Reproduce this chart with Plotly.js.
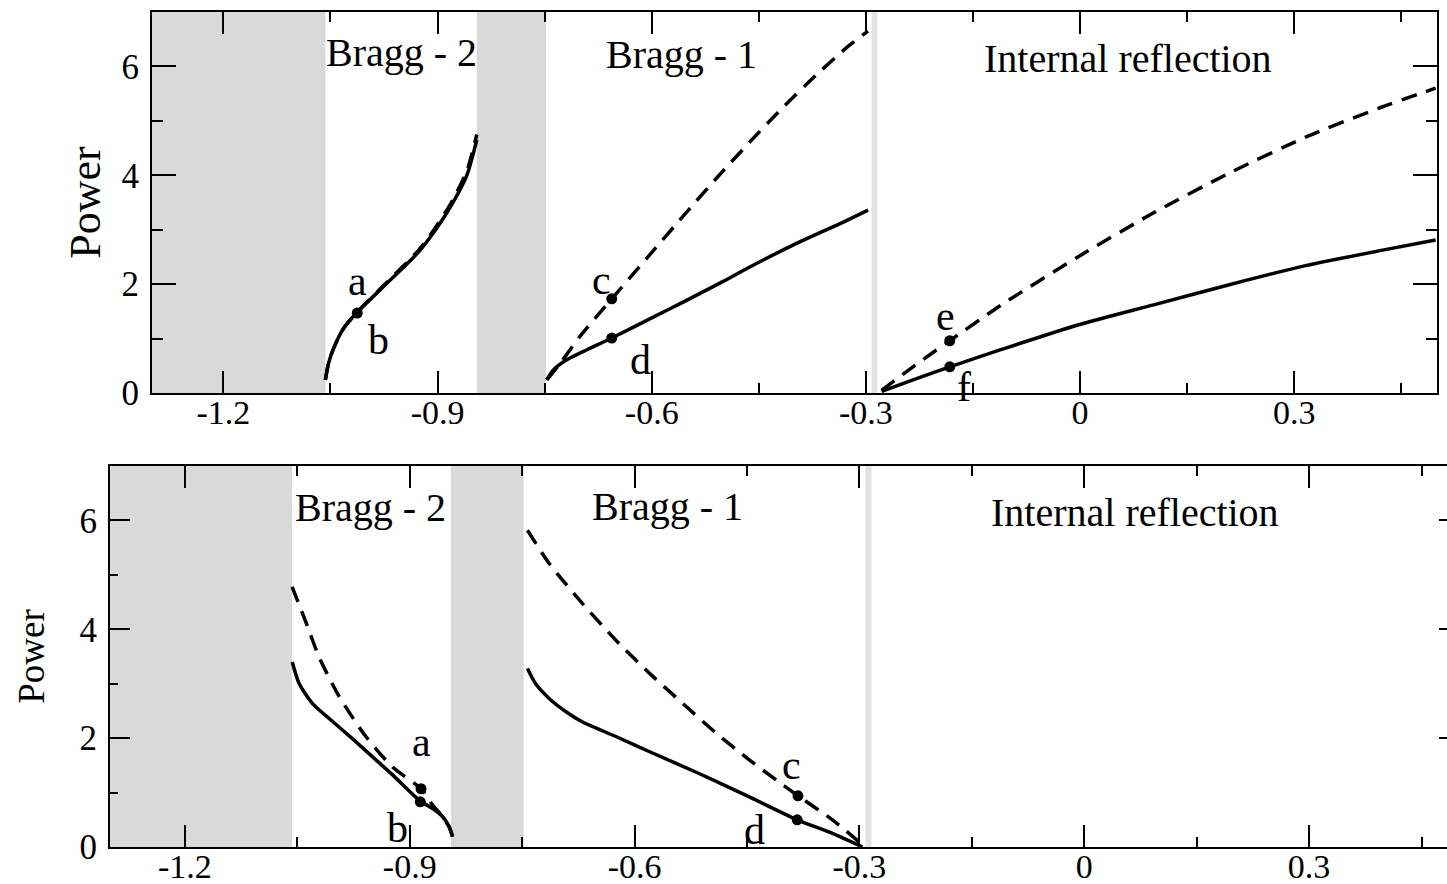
<!DOCTYPE html>
<html><head><meta charset="utf-8">
<script src="https://cdn.plot.ly/plotly-3.0.1.min.js"></script>
<style>html,body{margin:0;padding:0;overflow:hidden;background:#fff}#chart{width:1465px;height:884px}</style>
</head><body><div id="chart"></div>
<script>
// ---------- data ----------
const xRange = [-1.3, 0.5];
const yRange = [0, 7];
const xTickVals = [-1.2, -0.9, -0.6, -0.3, 0, 0.3];
const xTickText = ['-1.2', '-0.9', '-0.6', '-0.3', '0', '0.3'];
const xMinorVals = [-1.05, -0.75, -0.45, -0.15, 0.15, 0.45];
const yTickVals = [0, 2, 4, 6];
const yTickText = ['0', '2', '4', '6'];
const yMinorVals = [1, 3, 5];

// shaded (forbidden) bands [start, end]
const bandStart = [-1.3, -0.845, -0.292];
const bandEnd   = [-1.057, -0.748, -0.284];

const regionNames = ['Bragg - 2', 'Bragg - 1', 'Internal reflection'];
const regionTopX = [-0.951, -0.558, 0.067];
const regionTopY = [6.25, 6.21, 6.15];
const regionBotX = [-0.952, -0.556, 0.068];
const regionBotY = [6.23, 6.25, 6.15];

// ---- top panel ----
const topB2X      = [-1.0572, -1.0526, -1.0456, -1.0316, -1.0129, -0.976, -0.928, -0.906, -0.882, -0.859, -0.845];
const topB2Solid  = [0.24, 0.55, 0.82, 1.19, 1.48, 1.95, 2.57, 2.94, 3.42, 4.00, 4.65];
const topB2Dash   = [0.24, 0.55, 0.82, 1.19, 1.48, 1.97, 2.60, 2.98, 3.47, 4.08, 4.75];

const topB1DashX  = [-0.747, -0.728, -0.700, -0.656, -0.602, -0.556, -0.509, -0.462, -0.416, -0.369, -0.322, -0.297];
const topB1Dash   = [0.24, 0.55, 1.05, 1.73, 2.55, 3.25, 3.95, 4.62, 5.25, 5.85, 6.40, 6.65];
const topB1SolidX = [-0.747, -0.738, -0.719, -0.690, -0.656, -0.600, -0.556, -0.500, -0.462, -0.400, -0.330, -0.297];
const topB1Solid  = [0.24, 0.42, 0.61, 0.80, 1.01, 1.38, 1.67, 2.05, 2.32, 2.73, 3.15, 3.36];

const topIRX      = [-0.278, -0.230, -0.1825, -0.110, -0.003, 0.103, 0.209, 0.316, 0.422, 0.498];
const topIRDash   = [0.05, 0.52, 0.96, 1.62, 2.50, 3.31, 4.04, 4.70, 5.25, 5.60];
const topIRSolid  = [0.03, 0.26, 0.48, 0.80, 1.25, 1.62, 1.99, 2.34, 2.62, 2.81];

const topDotX     = [-1.0125, -0.656, -0.656, -0.1825, -0.1825];
const topDotY     = [1.47, 1.73, 1.01, 0.96, 0.48];
const topLetters  = ['a', 'b', 'c', 'd', 'e', 'f'];
const topLetterX  = [-1.0125, -0.983, -0.670, -0.616, -0.189, -0.163];
const topLetterY  = [2.06, 0.97, 2.08, 0.61, 1.42, 0.11];

// ---- bottom panel ----
const botB2DashX  = [-1.057, -1.038, -1.021, -0.994, -0.958, -0.923, -0.885, -0.870, -0.8564, -0.8475, -0.843];
const botB2Dash   = [4.78, 4.11, 3.49, 2.76, 2.02, 1.47, 1.07, 0.78, 0.56, 0.37, 0.19];
const botB2SolidX = [-1.0568, -1.0478, -1.030, -1.0033, -0.9766, -0.950, -0.9233, -0.8867, -0.870, -0.8564, -0.8475, -0.843];
const botB2Solid  = [3.40, 3.01, 2.64, 2.31, 1.99, 1.66, 1.33, 0.85, 0.71, 0.56, 0.37, 0.19];

const botB1DashX  = [-0.743, -0.714, -0.670, -0.625, -0.580, -0.536, -0.491, -0.447, -0.410, -0.382, -0.336, -0.296];
const botB1Dash   = [5.82, 5.21, 4.48, 3.80, 3.19, 2.64, 2.09, 1.60, 1.22, 0.94, 0.50, 0.04];
const botB1SolidX = [-0.743, -0.732, -0.714, -0.692, -0.670, -0.625, -0.580, -0.514, -0.447, -0.383, -0.336, -0.296];
const botB1Solid  = [3.28, 3.00, 2.73, 2.49, 2.30, 2.03, 1.75, 1.35, 0.92, 0.50, 0.25, 0.00];

const botDotX     = [-0.885, -0.886, -0.382, -0.383];
const botDotY     = [1.07, 0.83, 0.94, 0.50];
const botLetters  = ['a', 'b', 'c', 'd'];
const botLetterX  = [-0.885, -0.917, -0.390, -0.440];
const botLetterY  = [1.93, 0.35, 1.51, 0.31];

// ---------- drawing ----------
const FONT = 'Liberation Serif, Times New Roman, serif';
function curve(x, y, dashed, xa, ya) {
  return {x: x, y: y, type: 'scatter', mode: 'lines', xaxis: xa, yaxis: ya,
    line: {color: '#000', width: 3.5, dash: dashed ? '16px,10px' : 'solid', shape: 'spline', smoothing: 0.7},
    hoverinfo: 'skip', showlegend: false};
}
function dots(x, y, xa, ya) {
  return {x: x, y: y, type: 'scatter', mode: 'markers', xaxis: xa, yaxis: ya,
    marker: {color: '#000', size: 11}, hoverinfo: 'skip', showlegend: false};
}
const data = [
  curve(topB2X, topB2Solid, false, 'x', 'y'),
  curve(topB2X, topB2Dash, true, 'x', 'y'),
  curve(topB1DashX, topB1Dash, true, 'x', 'y'),
  curve(topB1SolidX, topB1Solid, false, 'x', 'y'),
  curve(topIRX, topIRDash, true, 'x', 'y'),
  curve(topIRX, topIRSolid, false, 'x', 'y'),
  dots(topDotX, topDotY, 'x', 'y'),
  curve(botB2DashX, botB2Dash, true, 'x2', 'y2'),
  curve(botB2SolidX, botB2Solid, false, 'x2', 'y2'),
  curve(botB1DashX, botB1Dash, true, 'x2', 'y2'),
  curve(botB1SolidX, botB1Solid, false, 'x2', 'y2'),
  dots(botDotX, botDotY, 'x2', 'y2')
];

function xAxis(domain, anchor) {
  return {domain: domain, anchor: anchor, range: xRange, tickmode: 'array', tickvals: xTickVals, ticktext: xTickText,
    ticks: 'inside', ticklen: 22, tickwidth: 2, tickcolor: '#000',
    showline: true, linewidth: 2, linecolor: '#000', mirror: 'allticks',
    showgrid: false, zeroline: false, ticklabelstandoff: -12,
    tickfont: {family: FONT, size: 34, color: '#000'},
    minor: {tickmode: 'array', tickvals: xMinorVals, ticks: 'inside', ticklen: 10, tickwidth: 2, tickcolor: '#000', showgrid: false}};
}
function yAxis(domain, anchor, titleSize, standoff, majLen, minLen) {
  return {domain: domain, anchor: anchor, range: yRange, tickmode: 'array', tickvals: yTickVals, ticktext: yTickText,
    ticks: 'inside', ticklen: majLen, tickwidth: 2, tickcolor: '#000',
    showline: true, linewidth: 2, linecolor: '#000', mirror: 'allticks',
    showgrid: false, zeroline: false, ticklabelstandoff: 4,
    tickfont: {family: FONT, size: 35, color: '#000'},
    title: {text: 'Power', font: {family: FONT, size: titleSize, color: '#000'}, standoff: standoff},
    minor: {tickmode: 'array', tickvals: yMinorVals, ticks: 'inside', ticklen: minLen, tickwidth: 2, tickcolor: '#000', showgrid: false}};
}

const shapes = [];
[['x', 'y'], ['x2', 'y2']].forEach(function (p) {
  for (let i = 0; i < bandStart.length; i++) {
    shapes.push({type: 'rect', xref: p[0], yref: p[1] + ' domain', x0: bandStart[i], x1: bandEnd[i], y0: 0, y1: 1,
      fillcolor: i === 2 ? '#e2e2e2' : '#d9d9d9', line: {width: 0}, layer: 'below'});
  }
});

const annotations = [];
function addText(names, xs, ys, xr, yr, size) {
  for (let i = 0; i < names.length; i++) {
    annotations.push({text: names[i], x: xs[i], y: ys[i], xref: xr, yref: yr, showarrow: false,
      font: {family: FONT, size: size, color: '#000'}, xanchor: 'center', yanchor: 'middle'});
  }
}
addText(regionNames, regionTopX, regionTopY, 'x', 'y', 40);
addText(regionNames, regionBotX, regionBotY, 'x2', 'y2', 40);
addText(topLetters, topLetterX, topLetterY, 'x', 'y', 42);
addText(botLetters, botLetterX, botLetterY, 'x2', 'y2', 42);

const W = 1465, H = 884;
const layout = {
  width: W, height: H, margin: {l: 0, r: 0, t: 0, b: 0},
  paper_bgcolor: '#fff', plot_bgcolor: '#fff', showlegend: false,
  xaxis: xAxis([152 / W, 1437 / W], 'y'),
  yaxis: yAxis([(H - 393) / H, (H - 12) / H], 'x', 44, 7, 24, 11),
  xaxis2: xAxis([110 / W, 1459 / W], 'y2'),
  yaxis2: yAxis([(H - 847) / H, (H - 466) / H], 'x2', 37, 24, 20, 8),
  shapes: shapes, annotations: annotations
};
Plotly.newPlot('chart', data, layout, {displayModeBar: false, staticPlot: true});
</script></body></html>
